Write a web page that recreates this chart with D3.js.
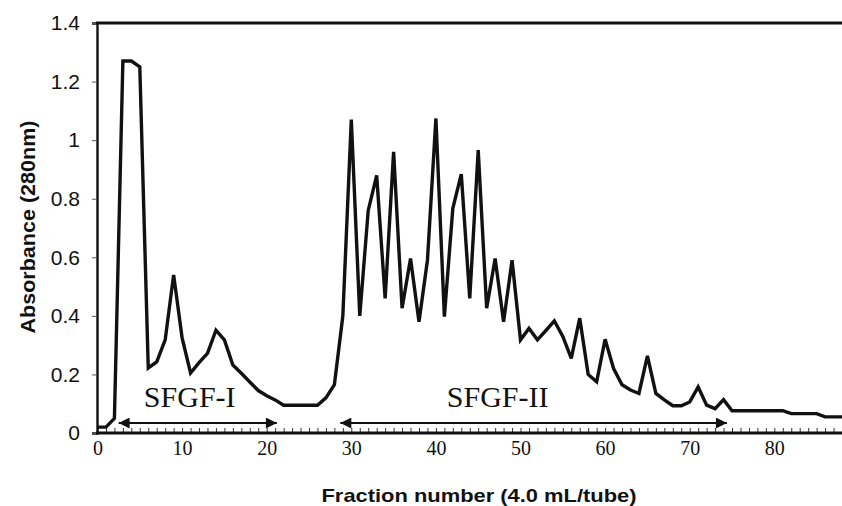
<!DOCTYPE html>
<html>
<head>
<meta charset="utf-8">
<script src="https://cdn.jsdelivr.net/npm/d3@7/dist/d3.min.js"></script>
<style>
  body { margin: 0; background: #fff; }
  svg { display: block; }
</style>
</head>
<body>
<svg id="chart" width="842" height="506"></svg>
<script>
// fraction number -> absorbance at 280nm
const fractions = d3.range(0, 89);
const absorbance = [
  0.02, 0.02, 0.05, 1.27, 1.27, 1.25, 0.222, 0.243, 0.318, 0.54,
  0.325, 0.205, 0.24, 0.272, 0.351, 0.318, 0.232, 0.204, 0.174, 0.145,
  0.127, 0.113, 0.095, 0.095, 0.095, 0.095, 0.095, 0.12, 0.165, 0.40,
  1.07, 0.40, 0.76, 0.88, 0.46, 0.96, 0.426, 0.596, 0.38, 0.59,
  1.074, 0.397, 0.767, 0.884, 0.46, 0.966, 0.426, 0.596, 0.38, 0.59,
  0.318, 0.357, 0.318, 0.35, 0.383, 0.33, 0.255, 0.392, 0.2, 0.175,
  0.32, 0.22, 0.165, 0.147, 0.135, 0.263, 0.135, 0.113, 0.093, 0.093,
  0.106, 0.157, 0.095, 0.083, 0.114, 0.076, 0.076, 0.076, 0.076, 0.076,
  0.076, 0.076, 0.066, 0.066, 0.066, 0.066, 0.055, 0.055, 0.055
];
const xTicks = [0, 10, 20, 30, 40, 50, 60, 70, 80];
const yTicks = [0, 0.2, 0.4, 0.6, 0.8, 1, 1.2, 1.4];
// pooled peak ranges (fraction from, fraction to)
const pools = [
  { name: "SFGF-I", from: 2.5, to: 21.2, labelAt: 10.9 },
  { name: "SFGF-II", from: 28.7, to: 74.4, labelAt: 47.3 }
];

const svg = d3.select("#chart");
const x = d3.scaleLinear().domain([0, 88]).range([97.5, 842]);
const y = d3.scaleLinear().domain([0, 1.4]).range([433, 23]);

// arrow heads
const defs = svg.append("defs");
defs.append("marker")
  .attr("id", "head")
  .attr("viewBox", "0 0 10 10")
  .attr("refX", 10).attr("refY", 5)
  .attr("markerUnits", "userSpaceOnUse")
  .attr("markerWidth", 15).attr("markerHeight", 11)
  .attr("orient", "auto-start-reverse")
  .append("path")
  .attr("d", "M0,0 L10,5 L0,10 Z")
  .attr("fill", "#111");

// minor ticks on x axis, one per fraction
svg.append("g")
  .attr("transform", `translate(0,${y(0)})`)
  .call(d3.axisBottom(x).tickValues(fractions).tickSize(-5).tickFormat(""))
  .call(g => g.select(".domain").remove())
  .call(g => g.selectAll("line").attr("stroke", "#333").attr("stroke-width", 1));

// x tick labels
svg.append("g")
  .attr("transform", `translate(0,${y(0)})`)
  .call(d3.axisBottom(x).tickValues(xTicks).tickSize(0).tickPadding(0))
  .call(g => g.select(".domain").remove())
  .call(g => g.selectAll("text")
    .attr("y", 22)
    .attr("dy", null)
    .attr("fill", "#111")
    .attr("font-family", "'Liberation Serif', 'Times New Roman', serif")
    .attr("font-size", 20));

// y axis
svg.append("g")
  .attr("transform", `translate(${x(0) - 0.5},0)`)
  .call(d3.axisLeft(y).tickValues(yTicks).tickSize(5).tickPadding(12).tickFormat(d3.format("~g")))
  .call(g => g.select(".domain").attr("stroke", "#111").attr("stroke-width", 2.4))
  .call(g => g.selectAll("line").attr("stroke", "#555"))
  .call(g => g.selectAll("text")
    .attr("fill", "#111")
    .attr("font-family", "'Liberation Sans', Arial, sans-serif")
    .attr("font-size", 21));

// x baseline and top frame line
svg.append("line")
  .attr("x1", x(0) - 1.5).attr("x2", 842)
  .attr("y1", y(0)).attr("y2", y(0))
  .attr("stroke", "#111").attr("stroke-width", 3);
svg.append("line")
  .attr("x1", x(0) - 1.5).attr("x2", 842)
  .attr("y1", y(1.4)).attr("y2", y(1.4))
  .attr("stroke", "#111").attr("stroke-width", 3);

// elution profile
const line = d3.line()
  .x((d, i) => x(fractions[i]))
  .y(d => y(d));
svg.append("path")
  .datum(absorbance)
  .attr("d", line)
  .attr("fill", "none")
  .attr("stroke", "#111")
  .attr("stroke-width", 3.4)
  .attr("stroke-linejoin", "miter")
  .attr("stroke-miterlimit", 3);

// pooled fractions: double arrows and labels
const arrowY = 0.034;
svg.selectAll(".pool")
  .data(pools)
  .join("line")
  .attr("class", "pool")
  .attr("x1", d => x(d.from)).attr("x2", d => x(d.to))
  .attr("y1", y(arrowY)).attr("y2", y(arrowY))
  .attr("stroke", "#111").attr("stroke-width", 2)
  .attr("marker-start", "url(#head)")
  .attr("marker-end", "url(#head)");

svg.selectAll(".poolLabel")
  .data(pools)
  .join("text")
  .attr("class", "poolLabel")
  .attr("x", d => x(d.labelAt))
  .attr("y", 406.5)
  .attr("text-anchor", "middle")
  .attr("font-family", "'Liberation Serif', 'Times New Roman', serif")
  .attr("font-size", 30)
  .attr("fill", "#111")
  .text(d => d.name);

// axis titles
svg.append("text")
  .attr("x", 479).attr("y", 502)
  .attr("text-anchor", "middle")
  .attr("font-family", "'Liberation Sans', Arial, sans-serif")
  .attr("font-weight", "bold")
  .attr("font-size", 19)
  .attr("textLength", 315)
  .attr("lengthAdjust", "spacingAndGlyphs")
  .attr("fill", "#111")
  .text("Fraction number (4.0 mL/tube)");

svg.append("text")
  .attr("transform", "translate(35,227) rotate(-90)")
  .attr("text-anchor", "middle")
  .attr("font-family", "'Liberation Sans', Arial, sans-serif")
  .attr("font-weight", "bold")
  .attr("font-size", 20)
  .attr("textLength", 213)
  .attr("lengthAdjust", "spacingAndGlyphs")
  .attr("fill", "#111")
  .text("Absorbance (280nm)");
</script>
</body>
</html>
